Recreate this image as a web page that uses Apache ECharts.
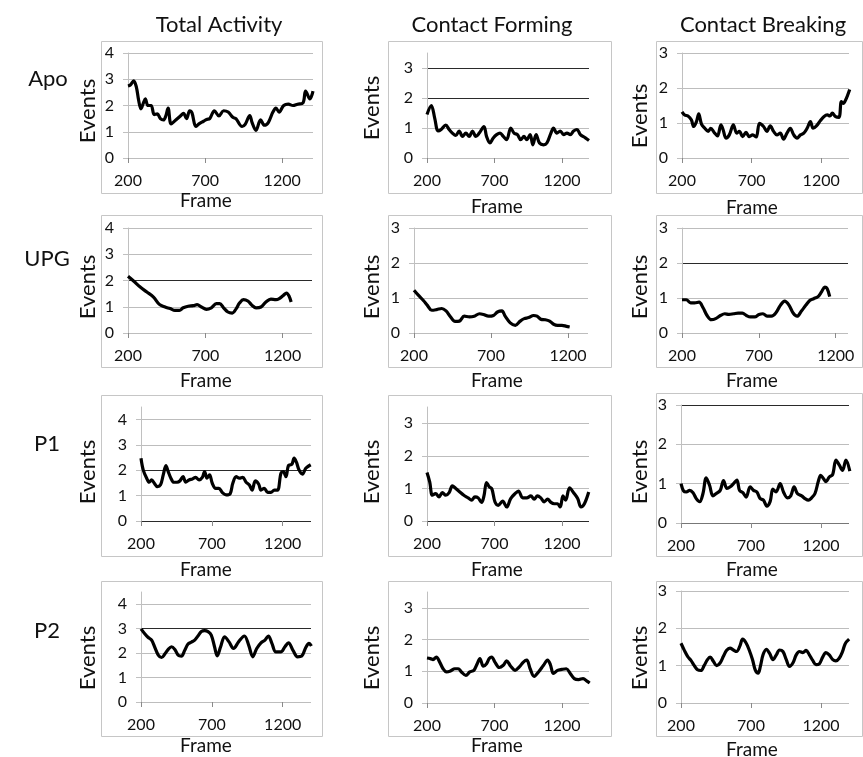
<!DOCTYPE html>
<html><head><meta charset="utf-8">
<script src="https://cdn.jsdelivr.net/npm/echarts@6/dist/echarts.min.js"></script>
<style>html,body{margin:0;padding:0;background:#fff}#c{width:863px;height:757px}</style>
</head><body><div id="c"></div><script>
// ---------- data ----------
const columnTitles = ['Total Activity', 'Contact Forming', 'Contact Breaking'];
const rowLabels = ['Apo', 'UPG', 'P1', 'P2'];
const xAxisName = 'Frame';
const yAxisName = 'Events';
const xTickValues = [200, 700, 1200];

const apoTotal = [[200,2.74],[215,2.78],[237,2.94],[254,2.71],[269,2.2],[284,1.87],[300,2.1],[312,2.25],[330,2.0],[350,2.0],[370,1.65],[390,1.68],[410,1.5],[430,1.45],[445,1.6],[460,1.9],[480,1.3],[510,1.45],[540,1.6],[560,1.7],[580,1.5],[600,1.8],[615,1.72],[640,1.2],[660,1.3],[690,1.4],[710,1.47],[730,1.5],[760,1.8],[790,1.6],[820,1.8],[850,1.75],[880,1.55],[900,1.5],[940,1.2],[960,1.28],[990,1.62],[1005,1.35],[1030,1.05],[1060,1.45],[1085,1.25],[1110,1.35],[1140,1.75],[1160,1.9],[1180,1.75],[1210,2.0],[1240,2.05],[1270,2.0],[1300,2.05],[1335,2.1],[1352,2.55],[1380,2.25],[1400,2.55]];
const apoForming = [[200,1.45],[232,1.75],[257,1.33],[282,0.9],[305,0.95],[339,1.1],[364,0.95],[388,0.83],[413,0.75],[438,0.9],[463,0.72],[488,0.83],[512,0.72],[537,0.9],[562,0.72],[587,0.83],[622,1.05],[641,0.72],[666,0.5],[691,0.67],[716,0.78],[741,0.83],[765,0.72],[790,0.61],[820,1.0],[845,0.83],[870,0.78],[894,0.61],[919,0.72],[939,0.61],[964,0.78],[984,0.44],[1008,0.78],[1033,0.5],[1063,0.44],[1088,0.5],[1118,0.83],[1137,1.0],[1162,0.83],[1187,0.9],[1212,0.78],[1237,0.83],[1261,0.78],[1286,0.9],[1311,0.95],[1336,0.78],[1373,0.67],[1400,0.58]];
const apoBreaking = [[200,1.32],[219,1.23],[243,1.2],[267,1.09],[284,0.9],[304,1.04],[320,1.26],[340,0.97],[364,0.85],[388,0.76],[407,0.85],[431,0.73],[455,0.63],[480,0.95],[496,0.8],[516,0.57],[540,0.66],[569,0.95],[593,0.71],[612,0.76],[636,0.61],[660,0.73],[684,0.61],[708,0.66],[733,0.6],[757,0.99],[786,0.9],[810,0.76],[834,0.92],[858,0.76],[882,0.66],[906,0.71],[930,0.54],[954,0.71],[978,0.85],[1003,0.66],[1027,0.57],[1051,0.66],[1075,0.71],[1099,0.85],[1123,1.04],[1142,0.85],[1166,0.92],[1195,1.07],[1219,1.18],[1244,1.23],[1263,1.2],[1280,1.28],[1304,1.18],[1328,1.16],[1345,1.61],[1359,1.56],[1376,1.66],[1405,1.96]];

const upgTotal = [[200,2.16],[236,1.98],[279,1.75],[322,1.56],[365,1.37],[403,1.09],[440,0.99],[472,0.93],[504,0.86],[532,0.86],[557,0.96],[589,1.02],[622,1.04],[647,1.08],[675,0.99],[707,0.9],[739,0.96],[771,1.12],[793,1.12],[818,0.96],[846,0.8],[874,0.76],[900,0.93],[921,1.14],[947,1.27],[975,1.22],[1003,1.05],[1028,0.96],[1060,0.99],[1092,1.18],[1124,1.29],[1157,1.27],[1178,1.31],[1204,1.43],[1225,1.52],[1242,1.4],[1255,1.18]];
const upgForming = [[200,1.22],[228,1.08],[261,0.93],[287,0.79],[315,0.65],[348,0.67],[380,0.7],[408,0.63],[434,0.48],[467,0.33],[495,0.34],[526,0.48],[560,0.46],[591,0.48],[625,0.55],[651,0.53],[684,0.48],[716,0.5],[742,0.6],[771,0.63],[792,0.48],[825,0.29],[858,0.22],[890,0.34],[916,0.41],[944,0.44],[977,0.5],[999,0.48],[1025,0.39],[1053,0.38],[1081,0.34],[1107,0.25],[1133,0.22],[1161,0.22],[1190,0.19],[1211,0.17]];
const upgBreaking = [[200,0.95],[228,0.95],[256,0.86],[282,0.86],[311,0.88],[337,0.72],[363,0.5],[391,0.38],[419,0.41],[450,0.5],[478,0.55],[506,0.53],[536,0.55],[565,0.57],[593,0.57],[619,0.5],[645,0.46],[673,0.46],[701,0.53],[727,0.55],[753,0.48],[782,0.48],[810,0.57],[840,0.79],[868,0.91],[897,0.79],[923,0.57],[949,0.48],[977,0.63],[1005,0.79],[1031,0.93],[1057,0.98],[1085,1.04],[1107,1.17],[1129,1.31],[1144,1.27],[1161,1.04]];

const p1Total = [[200,2.48],[216,2.01],[240,1.69],[258,1.53],[275,1.62],[294,1.49],[315,1.36],[338,1.43],[357,1.82],[376,2.19],[392,1.95],[411,1.69],[432,1.53],[455,1.53],[474,1.58],[497,1.75],[516,1.53],[539,1.62],[563,1.66],[586,1.72],[610,1.62],[633,1.72],[649,1.95],[666,1.69],[684,1.82],[703,1.49],[727,1.29],[750,1.29],[773,1.13],[801,1.03],[829,1.07],[848,1.49],[872,1.75],[895,1.69],[918,1.72],[942,1.53],[965,1.42],[984,1.22],[1007,1.58],[1031,1.45],[1047,1.22],[1070,1.29],[1094,1.13],[1117,1.13],[1141,1.22],[1164,1.22],[1188,1.89],[1204,1.95],[1223,1.75],[1241,2.19],[1265,2.24],[1281,2.48],[1297,2.32],[1316,2.01],[1340,1.85],[1363,2.08],[1398,2.22]];
const p1Forming = [[200,1.49],[220,1.2],[240,0.79],[264,0.84],[289,0.74],[314,0.87],[339,0.79],[364,0.87],[388,1.08],[413,1.0],[443,0.89],[473,0.79],[505,0.71],[530,0.64],[555,0.74],[579,0.71],[604,0.57],[622,0.77],[641,1.18],[661,1.05],[681,0.98],[703,0.59],[728,0.48],[760,0.61],[790,0.43],[820,0.69],[852,0.84],[877,0.92],[909,0.71],[939,0.71],[969,0.77],[994,0.67],[1018,0.77],[1043,0.71],[1068,0.59],[1093,0.67],[1118,0.57],[1142,0.53],[1167,0.53],[1187,0.43],[1207,0.77],[1227,0.64],[1256,1.02],[1286,0.87],[1316,0.69],[1341,0.43],[1366,0.53],[1398,0.89]];
const p1Breaking = [[200,1.0],[219,0.81],[238,0.79],[262,0.83],[286,0.77],[309,0.62],[333,0.54],[357,0.75],[380,1.15],[404,0.96],[428,0.69],[452,0.75],[480,0.83],[504,1.08],[528,0.88],[552,0.92],[575,1.0],[599,1.09],[618,0.83],[642,0.77],[665,0.66],[694,0.92],[718,0.83],[742,0.79],[765,0.62],[789,0.58],[813,0.43],[837,0.55],[856,0.86],[879,0.79],[908,1.0],[932,0.79],[960,0.64],[984,0.69],[1008,0.92],[1031,0.75],[1062,0.69],[1086,0.62],[1110,0.58],[1133,0.64],[1157,0.75],[1181,1.06],[1198,1.21],[1217,1.13],[1236,1.05],[1259,1.17],[1283,1.23],[1307,1.6],[1331,1.47],[1354,1.34],[1378,1.6],[1406,1.32]];

const p2Total = [[200,2.99],[228,2.78],[251,2.64],[275,2.53],[298,2.23],[322,1.92],[345,1.82],[368,1.96],[392,2.15],[415,2.26],[439,2.15],[462,1.92],[485,1.88],[509,2.12],[532,2.37],[556,2.45],[579,2.53],[602,2.7],[626,2.88],[649,2.92],[673,2.88],[696,2.74],[719,2.26],[738,1.89],[762,2.26],[790,2.67],[820,2.47],[853,2.19],[890,2.47],[930,2.7],[960,2.33],[989,1.85],[1017,2.19],[1047,2.42],[1075,2.53],[1099,2.7],[1124,2.4],[1152,2.05],[1187,2.05],[1216,2.26],[1241,2.42],[1274,2.1],[1305,1.85],[1335,1.88],[1363,2.23],[1386,2.4],[1403,2.29]];
const p2Forming = [[200,1.42],[225,1.4],[245,1.37],[269,1.45],[294,1.29],[319,1.08],[344,0.98],[374,1.01],[406,1.08],[431,1.08],[455,0.98],[488,0.87],[517,0.98],[547,1.03],[572,1.24],[592,1.4],[617,1.16],[641,1.24],[661,1.4],[679,1.45],[703,1.29],[736,1.12],[765,1.19],[790,1.33],[820,1.16],[852,1.03],[884,1.14],[914,1.29],[939,1.35],[964,1.08],[994,0.84],[1026,0.98],[1063,1.19],[1093,1.35],[1113,1.22],[1137,0.93],[1167,1.03],[1199,1.06],[1232,1.08],[1261,0.93],[1291,0.77],[1323,0.74],[1356,0.77],[1385,0.69],[1405,0.63]];
const p2Breaking = [[200,1.6],[224,1.41],[247,1.25],[271,1.14],[295,1.0],[318,0.89],[342,0.87],[365,1.0],[389,1.16],[408,1.23],[432,1.11],[455,1.0],[479,1.07],[503,1.25],[526,1.41],[550,1.47],[574,1.42],[597,1.38],[621,1.53],[640,1.71],[663,1.62],[687,1.42],[711,1.16],[730,0.89],[751,0.8],[767,0.98],[786,1.29],[810,1.44],[834,1.32],[857,1.16],[881,1.29],[904,1.42],[928,1.38],[952,1.16],[975,0.98],[999,1.07],[1023,1.29],[1046,1.38],[1070,1.35],[1094,1.41],[1117,1.29],[1141,1.14],[1164,1.03],[1188,1.05],[1212,1.23],[1235,1.35],[1259,1.29],[1282,1.17],[1306,1.13],[1330,1.2],[1354,1.38],[1373,1.59],[1401,1.71]];

const seriesByRow = [
  [apoTotal, apoForming, apoBreaking],
  [upgTotal, upgForming, upgBreaking],
  [p1Total, p1Forming, p1Breaking],
  [p2Total, p2Forming, p2Breaking]
];

// ---------- layout (positions / styles) ----------
const L = '#bdbdbd', D = '#2a2a2a';
const panels = [
  {left:128, top:53,  width:185, height:105, xmax:1400, ymax:4,   lines:[L,L,L,L,L]},
  {left:427, top:53,  width:162, height:105, xmax:1400, ymax:3.5, lines:[L,L,D,D]},
  {left:682, top:53,  width:167, height:105, xmax:1400, ymax:3,   lines:[L,L,L,L]},
  {left:128, top:228, width:184, height:105, xmax:1390, ymax:4,   lines:[L,L,D,L,L]},
  {left:414, top:228, width:174, height:105, xmax:1330, ymax:3,   lines:[L,L,L,L]},
  {left:682, top:228, width:166, height:105, xmax:1280, ymax:3,   lines:[L,L,D,L]},
  {left:141, top:407, width:170, height:114, xmax:1400, ymax:4.5, lines:[D,L,D,L,L]},
  {left:427, top:407, width:162, height:114, xmax:1400, ymax:3.5, lines:[D,L,L,L]},
  {left:681, top:405, width:168, height:118, xmax:1400, ymax:3,   lines:['#777',L,L,D]},
  {left:141, top:592, width:170, height:110, xmax:1400, ymax:4.5, lines:[L,L,L,D,L]},
  {left:427, top:592, width:162, height:111, xmax:1400, ymax:3.5, lines:[L,L,L,L]},
  {left:681, top:591, width:168, height:112, xmax:1400, ymax:3,   lines:[L,L,L,L]}
];
const boxes = [
  [101,41,221,152],[388,41,223,152],[656,41,206,152],
  [101,215,221,152],[388,215,223,152],[656,215,206,152],
  [101,395,221,161],[388,395,223,161],[656,393,206,163],
  [101,581,221,155],[388,581,223,155],[656,581,206,155]
];
const titlePos = [[219,25],[492,25],[763,25]];
const rowLabelPos = [[48,79],[47,259],[47,444],[47,631]];
const eventsX = [88,372,640];
const eventsY = [[111,108,116],[287,287,287],[472,472,472],[658,658,658]];
const frameX = [206,497,752];
const frameY = [[201,207,208],[381,381,381],[570,570,570],[746,746,750]];

const FONT = 'Lato, "Open Sans", sans-serif';
const grids = [], xAxes = [], yAxes = [], series = [], graphics = [];

boxes.forEach(b => graphics.push({type:'rect', z:-1, shape:{x:b[0]+0.5, y:b[1]+0.5, width:b[2], height:b[3]}, style:{fill:'none', stroke:'#c6c6c6', lineWidth:1}}));

panels.forEach((p, i) => {
  const r = Math.floor(i/3), c = i%3;
  grids.push({left:p.left, top:p.top, width:p.width, height:p.height, containLabel:false});
  xAxes.push({
    type:'value', gridIndex:i, min:200, max:p.xmax, interval:500,
    axisLine:{show:false},
    axisTick:{show:true, length:5, customValues:xTickValues, lineStyle:{color:'#8a8a8a', width:1}},
    axisLabel:{customValues:xTickValues, margin:15, color:'#111', fontSize:16, fontFamily:FONT, formatter:v => String(v)},
    splitLine:{show:false}
  });
  const yt = [];
  for (let v = 0; v <= p.ymax; v++) yt.push(v);
  yAxes.push({
    type:'value', gridIndex:i, min:0, max:p.ymax, interval:1,
    axisLine:{show:true, lineStyle:{color:'#c0c0c0', width:1}},
    axisTick:{show:true, length:5, customValues:yt, lineStyle:{color:'#c0c0c0'}},
    axisLabel:{customValues:yt, margin:14, color:'#111', fontSize:16, fontFamily:FONT, formatter:v => String(v)},
    splitLine:{show:true, lineStyle:{color:p.lines, width:1}}
  });
  series.push({
    type:'line', xAxisIndex:i, yAxisIndex:i, data:seriesByRow[r][c],
    showSymbol:false, smooth:0.35, lineStyle:{color:'#000', width:3.2}, z:5, animation:false
  });
  graphics.push({type:'text', x:eventsX[c], y:eventsY[r][c], rotation:Math.PI/2,
    style:{text:yAxisName, font:'22px '+FONT, fill:'#111', textAlign:'center', textVerticalAlign:'middle'}});
  graphics.push({type:'text', x:frameX[c], y:frameY[r][c],
    style:{text:xAxisName, font:'19px '+FONT, fill:'#111', textAlign:'center', textVerticalAlign:'middle'}});
});
columnTitles.forEach((t, c) => graphics.push({type:'text', x:titlePos[c][0], y:titlePos[c][1],
  style:{text:t, font:'22px '+FONT, fill:'#111', textAlign:'center', textVerticalAlign:'middle'}}));
rowLabels.forEach((t, r) => graphics.push({type:'text', x:rowLabelPos[r][0], y:rowLabelPos[r][1],
  style:{text:t, font:'22px '+FONT, fill:'#111', textAlign:'center', textVerticalAlign:'middle'}}));

const chart = echarts.init(document.getElementById('c'), null, {renderer:'canvas'});
chart.setOption({
  backgroundColor:'#fff', animation:false,
  grid:grids, xAxis:xAxes, yAxis:yAxes, series:series, graphic:graphics
});
</script></body></html>
